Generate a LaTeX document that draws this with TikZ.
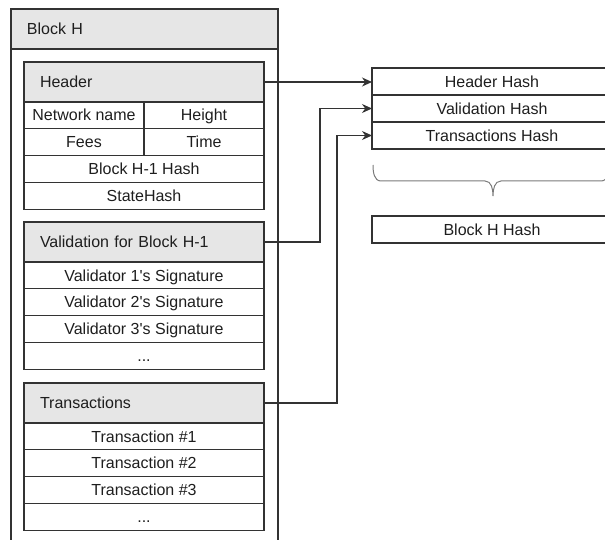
\documentclass[tikz,border=0pt]{standalone}
\usepackage{fontspec}
\setmainfont{Liberation Sans}
\usetikzlibrary{arrows.meta}
\definecolor{headgray}{HTML}{E6E6E6}
\definecolor{linegray}{HTML}{333333}
\definecolor{bracegray}{HTML}{7A7A7A}
\definecolor{textgray}{HTML}{1E1E1E}
\begin{document}
\begin{tikzpicture}[x=1pt,y=-1pt,line width=1.1pt,color=linegray,
    every node/.style={font=\fontsize{16}{19}\selectfont,text=textgray,inner sep=0pt,outer sep=0pt,
      text height=12.5pt,text depth=1.3pt},
    headbox/.style={draw,fill=headgray,anchor=west,minimum height=40pt,inner xsep=16pt,align=left},
    cell/.style={draw,minimum height=26.8pt,minimum width=240pt},
    halfcell/.style={draw,minimum height=26.8pt,minimum width=120pt},
    hashbox/.style={draw,minimum height=27pt,minimum width=240pt},
    link/.style={-{Stealth[length=10pt,width=9pt]}}]
  \useasboundingbox (0,0) rectangle (605,540);
  \clip (0,0) rectangle (605,540);
  % block frame
  \draw (11,9) rectangle (278,560);
  \node[headbox,text width=235pt] (blk) at (11,29) {Block H};
  % header
  \node[headbox,text width=208pt] (hdr) at (24,82) {Header};
  \node[halfcell] (netname) at (84,115.4) {Network name};
  \node[halfcell] (height) at (204,115.4) {Height};
  \node[halfcell] (fees) at (84,142.2) {Fees};
  \node[halfcell] (time) at (204,142.2) {Time};
  \node[cell] (prevhash) at (144,169) {Block H-1 Hash};
  \node[cell] (statehash) at (144,195.8) {StateHash};
  % validation
  \node[headbox,text width=208pt] (val) at (24,242) {Validation for Block H-1};
  \node[cell] (sig1) at (144,275.4) {Validator 1\textquotesingle s Signature};
  \node[cell] (sig2) at (144,302.2) {Validator 2\textquotesingle s Signature};
  \node[cell] (sig3) at (144,329) {Validator 3\textquotesingle s Signature};
  \node[cell] (sigmore) at (144,355.8) {...};
  % transactions
  \node[headbox,text width=208pt] (txs) at (24,403) {Transactions};
  \node[cell] (tx1) at (144,436.4) {Transaction \#1};
  \node[cell] (tx2) at (144,463.2) {Transaction \#2};
  \node[cell] (tx3) at (144,490) {Transaction \#3};
  \node[cell] (txmore) at (144,516.8) {...};
  % hashes
  \node[hashbox] (hhash) at (492,81.5) {Header Hash};
  \node[hashbox] (vhash) at (492,108.5) {Validation Hash};
  \node[hashbox] (thash) at (492,135.5) {Transactions Hash};
  \node[hashbox] (bhash) at (492,229.5) {Block H Hash};
  \draw[bracegray,line width=1pt] (373,165) to[out=-90,in=180] (381,181) -- (485,181)
    to[out=0,in=90] (493,196) to[out=90,in=180] (501,181) -- (601,181) to[out=0,in=-90] (609,165);
  % links
  \draw[link] (hdr.east) -- (hdr.east -| hhash.west);
  \draw[link] (val.east) -- ++(56,0) |- (vhash.west);
  \draw[link] (txs.east) -- ++(73,0) |- (thash.west);
\end{tikzpicture}
\end{document}
